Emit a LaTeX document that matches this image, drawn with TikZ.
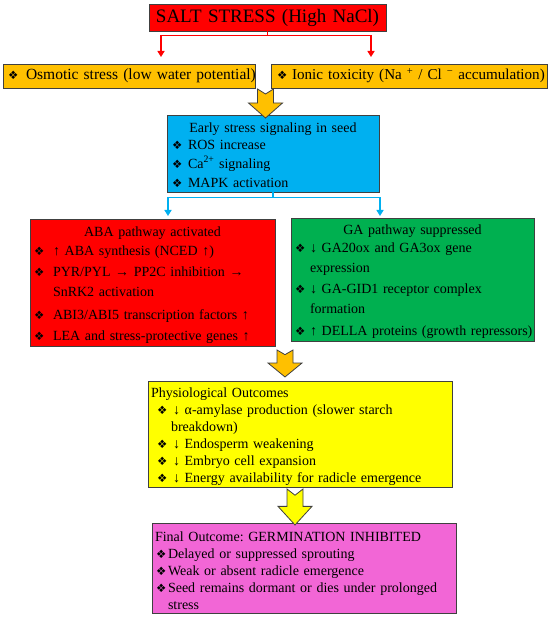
\documentclass[tikz,border=0pt]{standalone}
\usepackage{fontspec}
\setmainfont{Liberation Serif}
\newfontfamily\symfont{DejaVu Sans}
\usepackage{xcolor}
\usetikzlibrary{arrows.meta}
\setlength{\parindent}{0pt}
\frenchspacing

\definecolor{saltred}{HTML}{FF0000}
\definecolor{orangebox}{HTML}{FFC000}
\definecolor{bluebox}{HTML}{00B0F0}
\definecolor{greenbox}{HTML}{00B050}
\definecolor{yellowbox}{HTML}{FFFF00}
\definecolor{pinkbox}{HTML}{F266D6}
\definecolor{boxline}{HTML}{404040}

\newcommand\bul{{\symfont\fontsize{11.5}{10}\selectfont ❖}}
\newcommand\itm[1]{\makebox[#1][l]{\bul}}

\tikzset{
  box/.style={draw=boxline, line width=0.9pt, inner xsep=3pt, inner ysep=0pt, align=left, font=\fontsize{14}{19}\selectfont},
  padded/.style={execute at begin node={\rule{0pt}{#1}}},
  saltline/.style={draw=saltred, line width=1.5pt},
  signalline/.style={draw=bluebox, line width=1.8pt},
  tip/.style={-{Triangle[width=7pt,length=6pt]}},
  bigarrow/.pic={
    \draw[draw=boxline, line width=0.8pt, pic actions]
      (-8,0) -- (0,5) -- (8,0) -- (8,14) -- (17,14) -- (0,29) -- (-17,14) -- (-8,14) -- cycle;
  }
}

\begin{document}
\begin{tikzpicture}[x=1pt, y=-1pt]
\useasboundingbox (0,0) rectangle (550,617);

\node[box, fill=saltred, text width=231pt, minimum height=27pt, align=center, font=\fontsize{19}{19}\selectfont] (salt) at (267.5,17.5) {SALT STRESS (High NaCl)};

\node[box, fill=orangebox, text width=246pt, minimum height=24pt, font=\fontsize{15.5}{16}\selectfont] (osm) at (129,76) {\mbox{\hspace*{2pt}\itm{18pt}Osmotic stress (low water potential)}};
\node[box, fill=orangebox, text width=270pt, minimum height=24pt, font=\fontsize{15.1}{16}\selectfont] (ion) at (409,76) {\mbox{\hspace*{3pt}\itm{15pt}Ionic toxicity (Na \textsuperscript{+} / Cl \textsuperscript{−} accumulation)}};

\node[box, fill=bluebox, text width=206pt, minimum height=77pt, padded=12.5pt] (signal) at (273,153.5) {\makebox[\hsize]{Early stress signaling in seed}\\[-2pt]
\hspace*{2pt}\itm{16pt}ROS increase\\
\hspace*{2pt}\itm{16pt}Ca\textsuperscript{2+} signaling\\
\hspace*{2pt}\itm{16pt}MAPK activation};

\node[box, fill=saltred, text width=239pt, minimum height=127pt, font=\fontsize{14}{20}\selectfont, padded=15.5pt] (aba) at (152.5,282.5) {\makebox[\hsize]{ABA pathway activated}\\[-1pt]
\hspace*{1pt}\itm{19pt}↑ ABA synthesis (NCED ↑)\\[1pt]
\mbox{\hspace*{1pt}\itm{19pt}PYR/PYL → PP2C inhibition →}\\
\hspace*{20pt}SnRK2 activation\\[3pt]
\mbox{\hspace*{1pt}\itm{19pt}ABI3/ABI5 transcription factors ↑}\\[1pt]
\mbox{\hspace*{1pt}\itm{19pt}LEA and stress-protective genes ↑}};

\node[box, fill=greenbox, text width=237pt, minimum height=123pt, font=\fontsize{14}{19.5}\selectfont, padded=14.5pt] (ga) at (412.5,279.5) {\makebox[\hsize]{GA pathway suppressed}\\[-1pt]
\hspace*{1pt}\itm{15pt}↓ GA20ox and GA3ox gene\\
\hspace*{16pt}expression\\[2pt]
\hspace*{1pt}\itm{15pt}↓ GA-GID1 receptor complex\\
\hspace*{16pt}formation\\[3pt]
\mbox{\hspace*{1pt}\itm{15pt}↑ DELLA proteins (growth repressors)}};

\node[box, fill=yellowbox, text width=298pt, minimum height=106pt, font=\fontsize{14}{17}\selectfont, padded=15.5pt] (physio) at (300,434) {Physiological Outcomes\\
\mbox{\hspace*{6pt}\itm{16pt}↓ α-amylase production (slower starch}\\
\hspace*{20pt}breakdown)\\
\hspace*{6pt}\itm{16pt}↓ Endosperm weakening\\
\hspace*{6pt}\itm{16pt}↓ Embryo cell expansion\\
\mbox{\hspace*{6pt}\itm{16pt}↓ Energy availability for radicle emergence}};

\node[box, fill=pinkbox, text width=298pt, minimum height=90pt, font=\fontsize{14}{17}\selectfont, padded=14.5pt] (final) at (304,568) {\mbox{Final Outcome: GERMINATION INHIBITED}\\
\hspace*{1pt}\itm{12pt}Delayed or suppressed sprouting\\
\hspace*{1pt}\itm{12pt}Weak or absent radicle emergence\\
\mbox{\hspace*{1pt}\itm{12pt}Seed remains dormant or dies under prolonged}\\
\hspace*{13pt}stress};

\coordinate (osmtip) at (161,57);
\coordinate (iontip) at (371,57);
\draw[saltline] (salt.south) -- ++(0,4) coordinate (saltsplit);
\draw[saltline, tip] (saltsplit) -| (osmtip);
\draw[saltline, tip] (saltsplit) -| (iontip);

\coordinate (abatip) at (168,216);
\coordinate (gatip) at (380,216);
\draw[signalline] (signal.south) -- ++(0,5) coordinate (signalsplit);
\draw[signalline, tip] (signalsplit) -| (abatip);
\draw[signalline, tip] (signalsplit) -| (gatip);

\pic[fill=orangebox] at (265.5,89) {bigarrow};
\pic[fill=orangebox, yscale=0.93] at (285,350) {bigarrow};
\pic[fill=yellowbox, yscale=1.24] at (295,489) {bigarrow};
\end{tikzpicture}
\end{document}
